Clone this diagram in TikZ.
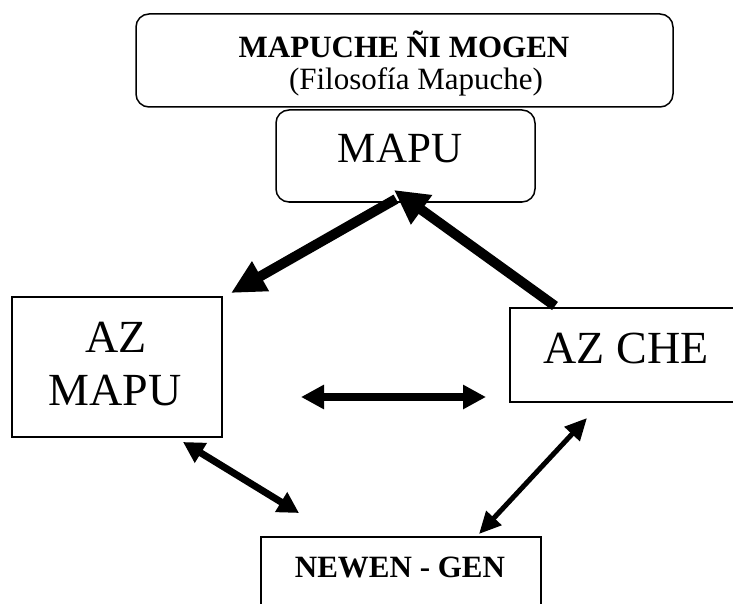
\documentclass[tikz,border=0pt]{standalone}
\usepackage{fontspec}
\setmainfont{Liberation Serif}
\usetikzlibrary{arrows.meta}
\begin{document}
\begin{tikzpicture}[x=1pt,y=-1pt,
  frame/.style={draw=black, line width=1.5pt, inner sep=0pt},
  roundframe/.style={frame, rounded corners=13pt},
  lbl/.style={inner sep=0pt, anchor=base},
  flow/.style={draw=black, line width=#1},
]
\useasboundingbox (0,0) rectangle (733,604);
\clip (0,0) rectangle (733,604);

% boxes
\node[roundframe, minimum width=537pt, minimum height=93pt] (title) at (404.5,60.5) {};
\node[roundframe, minimum width=259pt, minimum height=92pt] (mapu) at (405.5,156) {};
\node[frame, minimum width=210pt, minimum height=140pt] (azmapu) at (117,367) {};
\node[frame, minimum width=240pt, minimum height=94pt] (azche) at (630,355) {};
\node[frame, minimum width=280pt, minimum height=90pt] (newen) at (401,582) {};

% texts
\node[lbl, font=\fontsize{31}{36}\selectfont\bfseries] (titletext) at (404,58) {MAPUCHE ÑI MOGEN};
\begin{scope}
  \clip (136,14) rectangle (673,95.5);
  \node[lbl, font=\fontsize{31}{36}\selectfont] (subtext) at (416,90) {(Filosofía Mapuche)};
\end{scope}
\node[lbl, font=\fontsize{43}{50}\selectfont] (mapulbl) at (400,163) {MAPU};
\node[lbl, font=\fontsize{46}{53}\selectfont] (azlbl) at (116,352) {AZ};
\node[lbl, font=\fontsize{46}{53}\selectfont] (mapu2lbl) at (115,405) {MAPU};
\node[lbl, font=\fontsize{46}{53}\selectfont] (azchelbl) at (626,363) {AZ CHE};
\node[lbl, font=\fontsize{31}{36}\selectfont\bfseries] (newenlbl) at (400,577) {NEWEN - GEN};

% connector end points
\coordinate (m2a-s) at (396,199);
\coordinate (m2a-e) at (231,293);
\coordinate (c2m-s) at (555,306);
\coordinate (c2m-e) at (394,190);
\coordinate (h-l) at (301,397);
\coordinate (h-r) at (486,397);
\coordinate (a2n-s) at (183,442);
\coordinate (a2n-e) at (299,513);
\coordinate (c2n-s) at (587,418);
\coordinate (c2n-e) at (479,534);

% connectors
\draw[flow=10pt, -{Triangle[length=34pt,width=32pt]}] (m2a-s) -- (m2a-e);
\draw[flow=10pt, -{Triangle[length=34pt,width=34pt]}] (c2m-s) -- (c2m-e);
\draw[flow=8.5pt, {Triangle[length=23pt,width=23pt]}-{Triangle[length=23pt,width=23pt]}] (h-l) -- (h-r);
\draw[flow=7pt, {Triangle[length=21pt,width=22pt]}-{Triangle[length=21pt,width=22pt]}] (a2n-s) -- (a2n-e);
\draw[flow=5pt, {Triangle[length=22pt,width=20pt]}-{Triangle[length=22pt,width=20pt]}] (c2n-s) -- (c2n-e);
\end{tikzpicture}
\end{document}
